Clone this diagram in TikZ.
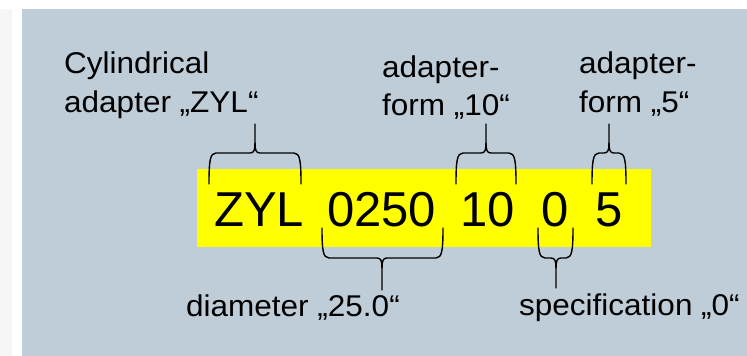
\documentclass[tikz,border=0pt]{standalone}
\usepackage{fontspec}
\setmainfont{Liberation Sans}
\newfontfamily\labelfont[FakeStretch=1.05]{Liberation Sans}
\definecolor{bgblue}{RGB}{191,205,216}
\definecolor{hlyellow}{RGB}{255,255,0}
\definecolor{margingray}{RGB}{246,246,246}
% #1 x1, #2 x2, #3 xc, #4 y of leg ends, #5 y of bar, #6 y of tip, #7 1=top,-1=bottom
\newcommand\codebrace[7]{%
  \draw[bracestyle] (#1,#4) .. controls (#1,{#5+8*(#7)}) and ({#1+1},#5) .. ({#1+7},#5)
     -- ({#3-5},#5) .. controls ({#3-1},#5) and (#3,{#5-3*(#7)}) .. (#3,{#5-10*(#7)}) -- (#3,#6);
  \draw[bracestyle] (#2,#4) .. controls (#2,{#5+8*(#7)}) and ({#2-1},#5) .. ({#2-7},#5)
     -- ({#3+5},#5) .. controls ({#3+1},#5) and (#3,{#5-3*(#7)}) .. (#3,{#5-10*(#7)});
}
\begin{document}
\begin{tikzpicture}[x=1pt,y=-1pt,
  lbl/.style={anchor=base west,inner sep=0pt,font=\labelfont\fontsize{30}{36}\selectfont},
  code/.style={anchor=base,inner sep=0pt,font=\fontsize{49}{58}\selectfont},
  bracestyle/.style={line width=1.4pt,line join=round,line cap=round}]
\useasboundingbox (0,0) rectangle (747,356);
\fill[white] (0,0) rectangle (747,356);
\fill[margingray] (0,9) rectangle (12,356);
\fill[bgblue] (22,9) rectangle (747,356);
\fill[hlyellow] (197,169) rectangle (651,247);
% code text
\node[code] (zyl) at (259,226) {ZYL};
\node[code] (dia) at (381.5,226) {0250};
\node[code] (form) at (487.5,226) {10};
\node[code] (spec) at (555,226) {0};
\node[code] (form2) at (609.5,226) {5};
% labels
\node[lbl] (l1a) at (64,73) {Cylindrical};
\node[lbl] (l1b) at (64,112) {adapter „ZYL“};
\node[lbl] (l2a) at (382,77) {adapter-};
\node[lbl] (l2b) at (382,115) {form „10“};
\node[lbl] (l3a) at (579,73) {adapter-};
\node[lbl] (l3b) at (579,112) {form „5“};
\node[lbl] (l4) at (186,316) {diameter „25.0“};
\node[lbl] (l5) at (519,315) {specification „0“};
% braces
\codebrace{209}{301}{255}{184}{153}{124}{1}
\codebrace{456}{516}{486}{184}{153}{124}{1}
\codebrace{592}{626}{609}{184}{153}{124}{1}
\codebrace{322}{443}{382}{228}{258}{290}{-1}
\codebrace{538}{573}{556}{228}{258}{288}{-1}
\end{tikzpicture}
\end{document}
